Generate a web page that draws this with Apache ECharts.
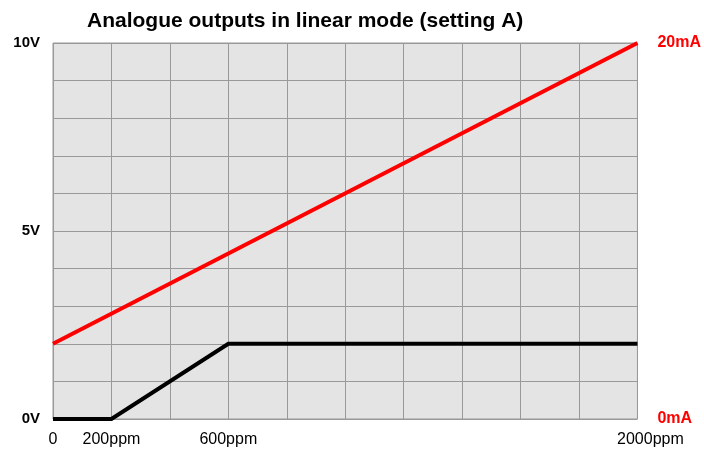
<!DOCTYPE html>
<html>
<head>
<meta charset="utf-8">
<script src="https://cdn.jsdelivr.net/npm/echarts@6/dist/echarts.min.js"></script>
<style>
  html, body { margin: 0; padding: 0; background: #fff; }
  #chart { width: 704px; height: 449px; }
</style>
</head>
<body>
<div id="chart"></div>
<script>
// concentration axis (ppm) and the two outputs
var ppmTicks = [0, 200, 600, 2000];
var voltagePpm = [0, 200, 600, 2000];
var voltage = [0, 0, 2, 2];          // V
var currentPpm = [0, 2000];
var current = [4, 20];               // mA
var voltTicks = [0, 5, 10];
var mATicks = [0, 20];

function pairs(xs, ys) {
    var out = [];
    for (var i = 0; i < xs.length; i++) out.push([xs[i], ys[i]]);
    return out;
}

var myChart = echarts.init(document.getElementById('chart'));
myChart.setOption({
    animation: false,
    title: {
        text: 'Analogue outputs in linear mode (setting A)',
        left: 82,
        top: 6,
        textStyle: {
            fontFamily: 'Liberation Sans, Arial',
            fontSize: 21,
            fontWeight: 'bold',
            color: '#000'
        }
    },
    grid: {
        left: 53,
        right: 65,
        top: 43,
        bottom: 30,
        show: true,
        backgroundColor: '#e4e4e4',
        borderColor: '#999',
        borderWidth: 1
    },
    xAxis: {
        type: 'value',
        min: 0,
        max: 2000,
        interval: 200,
        axisLine: { show: false },
        axisTick: { show: false },
        splitLine: { lineStyle: { color: '#999', width: 1 } },
        axisLabel: {
            margin: 13,
            fontFamily: 'Liberation Sans, Arial',
            fontSize: 16,
            color: '#000',
            showMaxLabel: true,
            formatter: function (v) {
                if (ppmTicks.indexOf(v) < 0) return '';
                if (v === 0) return '0';
                if (v === 2000) return '{end|' + v + 'ppm}';
                return v + 'ppm';
            },
            rich: {
                end: { fontSize: 16, fontFamily: 'Liberation Sans, Arial', color: '#000', padding: [0, 0, 0, 26] }
            }
        }
    },
    yAxis: [{
        type: 'value',
        min: 0,
        max: 10,
        interval: 1,
        axisLine: { show: false },
        axisTick: { show: false },
        splitLine: { lineStyle: { color: '#999', width: 1 } },
        axisLabel: {
            margin: 13,
            fontFamily: 'Liberation Sans, Arial',
            fontSize: 15,
            fontWeight: 'bold',
            color: '#000',
            formatter: function (v) {
                return voltTicks.indexOf(v) >= 0 ? v + 'V' : '';
            }
        }
    }, {
        type: 'value',
        position: 'right',
        min: 0,
        max: 20,
        interval: 2,
        axisLine: { show: false },
        axisTick: { show: false },
        splitLine: { show: false },
        axisLabel: {
            margin: 20,
            fontFamily: 'Liberation Sans, Arial',
            fontSize: 16,
            fontWeight: 'bold',
            color: '#ff0000',
            formatter: function (v) {
                return mATicks.indexOf(v) >= 0 ? v + 'mA' : '';
            }
        }
    }],
    series: [{
        name: 'current',
        type: 'line',
        yAxisIndex: 1,
        symbol: 'none',
        lineStyle: { color: '#ff0000', width: 4 },
        data: pairs(currentPpm, current)
    }, {
        name: 'voltage',
        type: 'line',
        yAxisIndex: 0,
        symbol: 'none',
        lineStyle: { color: '#000000', width: 4, cap: 'butt', join: 'miter' },
        data: pairs(voltagePpm, voltage)
    }]
});
</script>
</body>
</html>
